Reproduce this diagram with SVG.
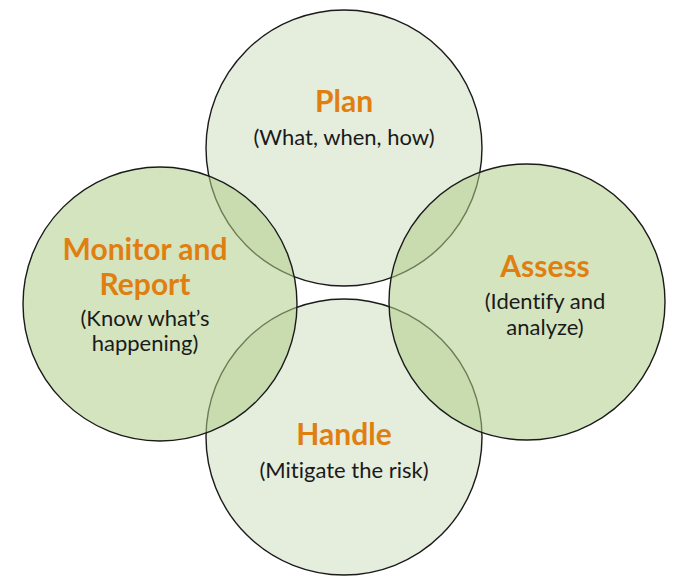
<svg xmlns="http://www.w3.org/2000/svg" width="689" height="583" viewBox="0 0 689 583">
<style>
.light{fill:#e5eddd;stroke:#1a1a1a;stroke-width:1.4}
.dark{fill:#b0cd88;fill-opacity:0.55;stroke:#1a1a1a;stroke-width:1.4}
.t{font-family:Lato,"Open Sans",sans-serif;font-weight:700;font-size:30px;fill:#e07f10;text-anchor:middle}
.s{font-family:Lato,"Open Sans",sans-serif;font-size:22px;fill:#1a1a1a;text-anchor:middle;font-variant-ligatures:none}
</style>
<rect width="689" height="583" fill="#ffffff"/>
<g id="plan">
<circle class="light" cx="344" cy="148" r="138"/>
</g>
<g id="handle">
<circle class="light" cx="344" cy="437" r="138"/>
</g>
<g id="monitor">
<circle class="dark" cx="160" cy="304" r="137"/>
</g>
<g id="assess">
<circle class="dark" cx="527" cy="302" r="138"/>
</g>
<g id="connectors"></g>
<g id="labels">
<text class="t" x="344" y="112">Plan</text>
<text class="s" x="344" y="145">(What, when, how)</text>
<text class="t" x="145" y="260">Monitor and</text>
<text class="t" x="145" y="295">Report</text>
<text class="s" x="145" y="326">(Know what’s</text>
<text class="s" x="145" y="351">happening)</text>
<text class="t" x="545" y="277">Assess</text>
<text class="s" x="545" y="309">(Identify and</text>
<text class="s" x="545" y="335">analyze)</text>
<text class="t" x="344" y="445">Handle</text>
<text class="s" x="344" y="478">(Mitigate the risk)</text>
</g>
</svg>
